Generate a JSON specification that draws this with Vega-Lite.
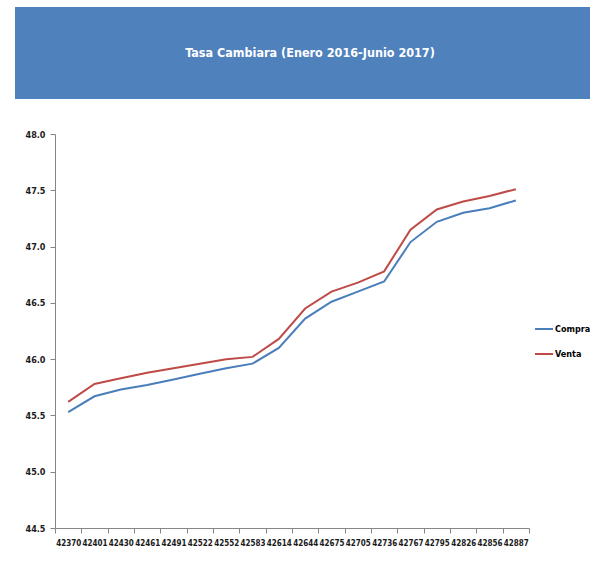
{
  "$schema": "https://vega.github.io/schema/vega-lite/v6.json",
  "padding": {"left": 15, "top": 7, "right": 0, "bottom": 0},
  "background": "white",
  "config": {
    "view": {"stroke": null},
    "font": "'Liberation Sans Narrow', 'DejaVu Sans Condensed', sans-serif"
  },
  "datasets": {
    "titulo": [{"t": "Tasa Cambiara (Enero 2016-Junio 2017)"}],
    "vacio": [],
    "tasas": [
      {"fecha": "42370", "serie": "Compra", "valor": 45.53},
      {"fecha": "42401", "serie": "Compra", "valor": 45.67},
      {"fecha": "42430", "serie": "Compra", "valor": 45.73},
      {"fecha": "42461", "serie": "Compra", "valor": 45.77},
      {"fecha": "42491", "serie": "Compra", "valor": 45.82},
      {"fecha": "42522", "serie": "Compra", "valor": 45.87},
      {"fecha": "42552", "serie": "Compra", "valor": 45.92},
      {"fecha": "42583", "serie": "Compra", "valor": 45.96},
      {"fecha": "42614", "serie": "Compra", "valor": 46.10},
      {"fecha": "42644", "serie": "Compra", "valor": 46.36},
      {"fecha": "42675", "serie": "Compra", "valor": 46.51},
      {"fecha": "42705", "serie": "Compra", "valor": 46.60},
      {"fecha": "42736", "serie": "Compra", "valor": 46.69},
      {"fecha": "42767", "serie": "Compra", "valor": 47.04},
      {"fecha": "42795", "serie": "Compra", "valor": 47.22},
      {"fecha": "42826", "serie": "Compra", "valor": 47.30},
      {"fecha": "42856", "serie": "Compra", "valor": 47.34},
      {"fecha": "42887", "serie": "Compra", "valor": 47.41},
      {"fecha": "42370", "serie": "Venta", "valor": 45.62},
      {"fecha": "42401", "serie": "Venta", "valor": 45.78},
      {"fecha": "42430", "serie": "Venta", "valor": 45.83},
      {"fecha": "42461", "serie": "Venta", "valor": 45.88},
      {"fecha": "42491", "serie": "Venta", "valor": 45.92},
      {"fecha": "42522", "serie": "Venta", "valor": 45.96},
      {"fecha": "42552", "serie": "Venta", "valor": 46.00},
      {"fecha": "42583", "serie": "Venta", "valor": 46.02},
      {"fecha": "42614", "serie": "Venta", "valor": 46.18},
      {"fecha": "42644", "serie": "Venta", "valor": 46.45},
      {"fecha": "42675", "serie": "Venta", "valor": 46.60},
      {"fecha": "42705", "serie": "Venta", "valor": 46.68},
      {"fecha": "42736", "serie": "Venta", "valor": 46.78},
      {"fecha": "42767", "serie": "Venta", "valor": 47.15},
      {"fecha": "42795", "serie": "Venta", "valor": 47.33},
      {"fecha": "42826", "serie": "Venta", "valor": 47.40},
      {"fecha": "42856", "serie": "Venta", "valor": 47.45},
      {"fecha": "42887", "serie": "Venta", "valor": 47.51}
    ]
  },
  "spacing": 31,
  "vconcat": [
    {
      "width": 590,
      "height": 92,
      "view": {"fill": "#4F81BD", "stroke": null},
      "data": {"name": "titulo"},
      "mark": {"type": "text", "color": "white", "fontSize": 12.5, "fontWeight": "bold", "baseline": "middle", "align": "center"},
      "encoding": {"text": {"field": "t"}}
    },
    {
      "spacing": 0,
      "hconcat": [
        {
          "width": 1,
          "height": 1,
          "data": {"name": "vacio"},
          "mark": "point",
          "encoding": {}
        },
        {
          "width": 474,
          "height": 394,
          "data": {"name": "tasas"},
          "mark": {"type": "line", "strokeWidth": 2},
          "encoding": {
            "x": {
              "field": "fecha",
              "type": "ordinal",
              "sort": null,
              "scale": {"type": "band", "paddingInner": 0, "paddingOuter": 0},
              "axis": {
                "title": null,
                "labelAngle": 0,
                "tickBand": "extent",
                "tickSize": 5,
                "tickColor": "#868686",
                "domainColor": "#868686",
                "labelFontSize": 8,
                "labelFontWeight": "bold",
                "labelColor": "#1a1a1a",
                "labelPadding": 6,
                "labelOverlap": false,
                "labelBound": false
              }
            },
            "y": {
              "field": "valor",
              "type": "quantitative",
              "scale": {"domain": [44.5, 48.0], "zero": false, "nice": false},
              "axis": {
                "title": null,
                "values": [44.5, 45.0, 45.5, 46.0, 46.5, 47.0, 47.5, 48.0],
                "format": ".1f",
                "grid": false,
                "tickSize": 5,
                "tickColor": "#868686",
                "domainColor": "#868686",
                "labelFontSize": 9,
                "labelFontWeight": "bold",
                "labelColor": "#1a1a1a",
                "labelPadding": 5,
                "minExtent": 39,
                "maxExtent": 39
              }
            },
            "color": {
              "field": "serie",
              "type": "nominal",
              "scale": {"domain": ["Compra", "Venta"], "range": ["#4A7EBB", "#BE4B48"]},
              "legend": {
                "title": null,
                "orient": "none",
                "legendX": 519,
                "legendY": 312,
                "padding": 0,
                "symbolType": "stroke",
                "symbolSize": 324,
                "symbolStrokeWidth": 2,
                "labelFontSize": 9,
                "labelFontWeight": "bold",
                "labelColor": "black",
                "labelOffset": 1,
                "rowPadding": 10
              }
            }
          }
        }
      ]
    }
  ]
}
